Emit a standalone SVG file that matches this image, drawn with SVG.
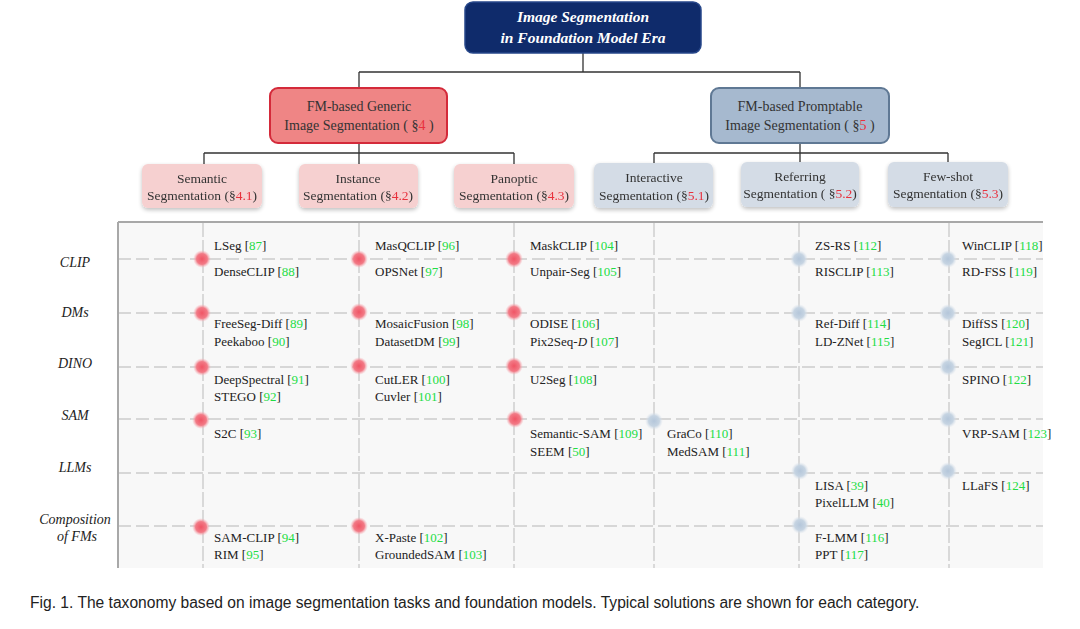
<svg xmlns="http://www.w3.org/2000/svg" width="1080" height="629" viewBox="0 0 1080 629">
<style>
.t{font-family:"Liberation Serif","Times New Roman",serif;font-size:13px;fill:#222}
.g{fill:#22dd44}
.r{fill:#e8303e}
.row{font-family:"Liberation Serif","Times New Roman",serif;font-size:14px;font-style:italic;fill:#222;text-anchor:middle}
.hd{font-family:"Liberation Serif","Times New Roman",serif;font-size:15.5px;font-style:italic;font-weight:bold;fill:#fff;text-anchor:middle}
.n2{font-family:"Liberation Serif","Times New Roman",serif;font-size:14px;fill:#333;text-anchor:middle}
.n3{font-family:"Liberation Serif","Times New Roman",serif;font-size:13.5px;fill:#333;text-anchor:middle}
.conn{stroke:#333;stroke-width:1.3;fill:none}
.hl{stroke:#cccccc;stroke-width:1.3;stroke-dasharray:13 5;fill:none}
.vl{stroke:#c8c8c8;stroke-width:1.3;stroke-dasharray:15 3;fill:none}
.cap{font-family:"Liberation Sans",Arial,sans-serif;font-size:15.6px;fill:#222}
</style>
<defs>
<radialGradient id="rd" cx="0.5" cy="0.5" r="0.5">
<stop offset="0" stop-color="#f05565"/>
<stop offset="0.6" stop-color="#f27a86"/>
<stop offset="1" stop-color="#f7b8be" stop-opacity="0"/>
</radialGradient>
<radialGradient id="bd" cx="0.5" cy="0.5" r="0.5">
<stop offset="0" stop-color="#b4c6da"/>
<stop offset="0.6" stop-color="#c6d4e2"/>
<stop offset="1" stop-color="#dfe6ee" stop-opacity="0"/>
</radialGradient>
<filter id="sh" x="-10%" y="-10%" width="120%" height="130%">
<feGaussianBlur in="SourceAlpha" stdDeviation="2"/>
<feOffset dy="1.5"/>
<feComponentTransfer><feFuncA type="linear" slope="0.25"/></feComponentTransfer>
<feMerge><feMergeNode/><feMergeNode in="SourceGraphic"/></feMerge>
</filter>
</defs>
<rect width="1080" height="629" fill="#ffffff"/>

<g id="connectors">
<path class="conn" d="M583 53 V72 M359 72 H800 M359 72 V88 M800 72 V88"/>
<path class="conn" d="M359 143 V153 M204 153 H514 M204 153 V165 M359 153 V165 M514 153 V165"/>
<path class="conn" d="M800 143 V153 M654 153 H948 M654 153 V164 M800 153 V164 M948 153 V164"/>
</g>

<g id="root">
<rect x="465" y="2" width="236" height="51" rx="8" fill="#0f2b6b" stroke="#27478a" stroke-width="1.5"/>
<text class="hd" x="583" y="22">Image Segmentation</text>
<text class="hd" x="583" y="43">in Foundation Model Era</text>
</g>

<g id="generic">
<rect x="270" y="88" width="177" height="55" rx="8" fill="#ef8585" stroke="#d42a3a" stroke-width="2"/>
<text class="n2" x="359" y="111">FM-based Generic</text>
<text class="n2" x="359" y="130">Image Segmentation ( §<tspan class="r">4</tspan> )</text>
</g>

<g id="promptable">
<rect x="711" y="88" width="178" height="55" rx="8" fill="#a6b9cf" stroke="#5f7894" stroke-width="2"/>
<text class="n2" x="800" y="111">FM-based Promptable</text>
<text class="n2" x="800" y="130">Image Segmentation ( §<tspan class="r">5</tspan> )</text>
</g>

<g id="semantic" filter="url(#sh)">
<rect x="142" y="164" width="120" height="44" rx="6" fill="#f6d0d0"/>
<text class="n3" x="202" y="183">Semantic</text>
<text class="n3" x="202" y="200">Segmentation (§<tspan class="r">4.1</tspan>)</text>
</g>
<g id="instance" filter="url(#sh)">
<rect x="299" y="164" width="119" height="44" rx="6" fill="#f6d0d0"/>
<text class="n3" x="358" y="183">Instance</text>
<text class="n3" x="358" y="200">Segmentation (§<tspan class="r">4.2</tspan>)</text>
</g>
<g id="panoptic" filter="url(#sh)">
<rect x="454" y="164" width="120" height="44" rx="6" fill="#f6d0d0"/>
<text class="n3" x="514" y="183">Panoptic</text>
<text class="n3" x="514" y="200">Segmentation (§<tspan class="r">4.3</tspan>)</text>
</g>
<g id="interactive" filter="url(#sh)">
<rect x="594" y="163" width="119" height="45" rx="6" fill="#d4dce6"/>
<text class="n3" x="654" y="182">Interactive</text>
<text class="n3" x="654" y="200">Segmentation (§<tspan class="r">5.1</tspan>)</text>
</g>
<g id="referring" filter="url(#sh)">
<rect x="741" y="162" width="118" height="45" rx="6" fill="#d4dce6"/>
<text class="n3" x="800" y="181">Referring</text>
<text class="n3" x="800" y="198">Segmentation ( §<tspan class="r">5.2</tspan>)</text>
</g>
<g id="fewshot" filter="url(#sh)">
<rect x="888" y="162" width="120" height="45" rx="6" fill="#d4dce6"/>
<text class="n3" x="948" y="181">Few-shot</text>
<text class="n3" x="948" y="198">Segmentation (§<tspan class="r">5.3</tspan>)</text>
</g>

<g id="grid">
<rect x="118" y="222" width="925" height="346" fill="#f8f8f8"/>
<path class="hl" d="M118 259 H1043 M118 313 H1043 M118 367 H1043 M118 419 H1043 M118 473 H1043 M118 526 H1043"/>
<path class="vl" d="M203 222 V568 M359 222 V568 M514 222 V568 M654 222 V568 M799 222 V568 M949 222 V568"/>
<path d="M118 222 H1043 M118 222 V568" stroke="#a8a8a8" stroke-width="2" fill="none"/>
</g>

<g id="row-labels">
<text class="row" x="75" y="267">CLIP</text>
<text class="row" x="75" y="317">DMs</text>
<text class="row" x="75" y="368">DINO</text>
<text class="row" x="75" y="420">SAM</text>
<text class="row" x="75" y="472">LLMs</text>
<text class="row" x="75" y="524">Composition</text>
<text class="row" x="77" y="541">of FMs</text>
</g>

<g id="dots">
<circle cx="202" cy="259" r="9" fill="url(#rd)"/>
<circle cx="359" cy="259" r="9" fill="url(#rd)"/>
<circle cx="514" cy="259" r="9" fill="url(#rd)"/>
<circle cx="799" cy="259" r="9" fill="url(#bd)"/>
<circle cx="948" cy="259" r="9" fill="url(#bd)"/>
<circle cx="202" cy="313" r="9" fill="url(#rd)"/>
<circle cx="359" cy="312" r="9" fill="url(#rd)"/>
<circle cx="514" cy="312" r="9" fill="url(#rd)"/>
<circle cx="799" cy="313" r="9" fill="url(#bd)"/>
<circle cx="948" cy="313" r="9" fill="url(#bd)"/>
<circle cx="202" cy="367" r="9" fill="url(#rd)"/>
<circle cx="359" cy="366" r="9" fill="url(#rd)"/>
<circle cx="514" cy="366" r="9" fill="url(#rd)"/>
<circle cx="948" cy="367" r="9" fill="url(#bd)"/>
<circle cx="201" cy="420" r="9" fill="url(#rd)"/>
<circle cx="515" cy="419" r="9" fill="url(#rd)"/>
<circle cx="654" cy="421" r="9" fill="url(#bd)"/>
<circle cx="948" cy="419" r="9" fill="url(#bd)"/>
<circle cx="800" cy="471" r="9" fill="url(#bd)"/>
<circle cx="948" cy="471" r="9" fill="url(#bd)"/>
<circle cx="201" cy="527" r="9" fill="url(#rd)"/>
<circle cx="359" cy="526" r="9" fill="url(#rd)"/>
<circle cx="800" cy="525" r="9" fill="url(#bd)"/>
</g>

<g id="col-semantic">
<text class="t" x="214" y="250">LSeg [<tspan class="g">87</tspan>]</text>
<text class="t" x="214" y="276">DenseCLIP [<tspan class="g">88</tspan>]</text>
<text class="t" x="214" y="328">FreeSeg-Diff [<tspan class="g">89</tspan>]</text>
<text class="t" x="214" y="346">Peekaboo [<tspan class="g">90</tspan>]</text>
<text class="t" x="214" y="384">DeepSpectral [<tspan class="g">91</tspan>]</text>
<text class="t" x="214" y="401">STEGO [<tspan class="g">92</tspan>]</text>
<text class="t" x="214" y="438">S2C [<tspan class="g">93</tspan>]</text>
<text class="t" x="214" y="542">SAM-CLIP [<tspan class="g">94</tspan>]</text>
<text class="t" x="214" y="559">RIM [<tspan class="g">95</tspan>]</text>
</g>
<g id="col-instance">
<text class="t" x="375" y="250">MasQCLIP [<tspan class="g">96</tspan>]</text>
<text class="t" x="375" y="276">OPSNet [<tspan class="g">97</tspan>]</text>
<text class="t" x="375" y="328">MosaicFusion [<tspan class="g">98</tspan>]</text>
<text class="t" x="375" y="346">DatasetDM [<tspan class="g">99</tspan>]</text>
<text class="t" x="375" y="384">CutLER [<tspan class="g">100</tspan>]</text>
<text class="t" x="375" y="401">Cuvler [<tspan class="g">101</tspan>]</text>
<text class="t" x="375" y="542">X-Paste [<tspan class="g">102</tspan>]</text>
<text class="t" x="375" y="559">GroundedSAM [<tspan class="g">103</tspan>]</text>
</g>
<g id="col-panoptic">
<text class="t" x="530" y="250">MaskCLIP [<tspan class="g">104</tspan>]</text>
<text class="t" x="530" y="276">Unpair-Seg [<tspan class="g">105</tspan>]</text>
<text class="t" x="530" y="328">ODISE [<tspan class="g">106</tspan>]</text>
<text class="t" x="530" y="346">Pix2Seq-<tspan font-style="italic">D</tspan> [<tspan class="g">107</tspan>]</text>
<text class="t" x="530" y="384">U2Seg [<tspan class="g">108</tspan>]</text>
<text class="t" x="530" y="438">Semantic-SAM [<tspan class="g">109</tspan>]</text>
<text class="t" x="530" y="456">SEEM [<tspan class="g">50</tspan>]</text>
</g>
<g id="col-interactive">
<text class="t" x="667" y="438">GraCo [<tspan class="g">110</tspan>]</text>
<text class="t" x="667" y="456">MedSAM [<tspan class="g">111</tspan>]</text>
</g>
<g id="col-referring">
<text class="t" x="815" y="250">ZS-RS [<tspan class="g">112</tspan>]</text>
<text class="t" x="815" y="276">RISCLIP [<tspan class="g">113</tspan>]</text>
<text class="t" x="815" y="328">Ref-Diff [<tspan class="g">114</tspan>]</text>
<text class="t" x="815" y="346">LD-ZNet [<tspan class="g">115</tspan>]</text>
<text class="t" x="815" y="490">LISA [<tspan class="g">39</tspan>]</text>
<text class="t" x="815" y="507">PixelLLM [<tspan class="g">40</tspan>]</text>
<text class="t" x="815" y="542">F-LMM [<tspan class="g">116</tspan>]</text>
<text class="t" x="815" y="559">PPT [<tspan class="g">117</tspan>]</text>
</g>
<g id="col-fewshot">
<text class="t" x="962" y="250">WinCLIP [<tspan class="g">118</tspan>]</text>
<text class="t" x="962" y="276">RD-FSS [<tspan class="g">119</tspan>]</text>
<text class="t" x="962" y="328">DiffSS [<tspan class="g">120</tspan>]</text>
<text class="t" x="962" y="346">SegICL [<tspan class="g">121</tspan>]</text>
<text class="t" x="962" y="384">SPINO [<tspan class="g">122</tspan>]</text>
<text class="t" x="962" y="438">VRP-SAM [<tspan class="g">123</tspan>]</text>
<text class="t" x="962" y="490">LLaFS [<tspan class="g">124</tspan>]</text>
</g>

<text class="cap" x="30" y="608">Fig. 1. The taxonomy based on image segmentation tasks and foundation models. Typical solutions are shown for each category.</text>
</svg>
